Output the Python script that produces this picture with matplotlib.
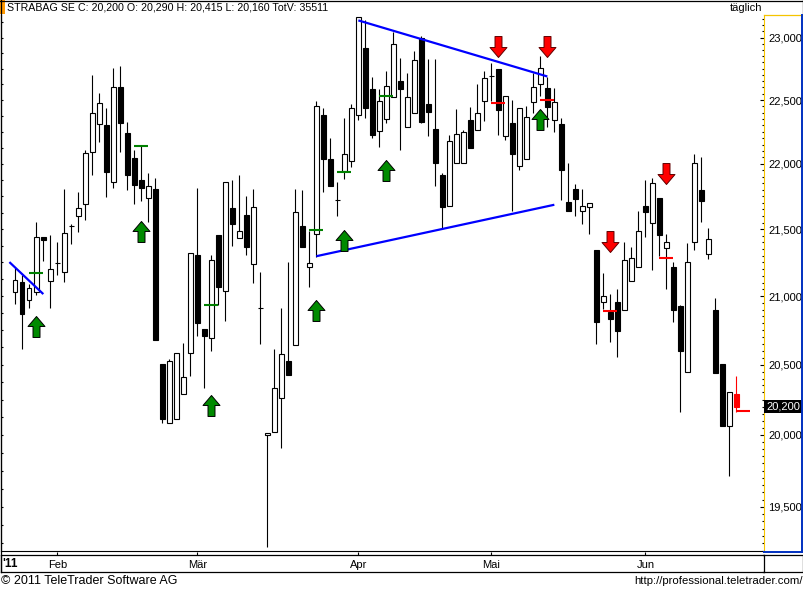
import numpy as np
import matplotlib
matplotlib.use('Agg')
import matplotlib.pyplot as plt
from matplotlib.patches import Rectangle
from matplotlib.lines import Line2D
from matplotlib.path import Path
from matplotlib.ticker import FixedLocator, FixedFormatter, NullFormatter
from matplotlib.transforms import blended_transform_factory

plt.rcParams['font.family'] = ['Liberation Sans', 'DejaVu Sans']

# daily candles (trading day index 0 = 24 Jan 2011), prices in EUR
opens = [21.027, 21.107, 20.974, 21.027, 21.444, 21.115, 21.245, 21.176, 21.523, 21.604,
         21.688, 22.093, 22.308, 22.302, 21.864, 22.607, 22.244, 22.046, 21.872, 21.735,
         21.804, 20.508, 20.080, 20.113, 20.286, 20.585, 21.304, 20.756, 20.694, 21.455,
         21.040, 21.661, 21.431, 21.607, 21.235, 20.916, 19.999, 20.017, 20.258, 20.526,
         20.642, 21.523, 21.219, 21.461, 22.381, 22.038, 21.721, 21.947, 22.024, 22.378,
         22.913, 22.585, 22.257, 22.350, 22.522, 22.647, 22.288, 22.401, 22.994, 22.471,
         22.269, 21.914, 21.680, 22.010, 22.010, 22.339, 22.260, 22.494, 22.693, 22.747,
         22.218, 22.322, 21.980, 22.035, 22.488, 22.624, 22.599, 22.344, 22.308, 21.708,
         21.804, 21.640, 21.667, 21.342, 20.955, 20.882, 20.953, 20.900, 21.115, 21.219,
         21.680, 21.545, 21.740, 21.358, 21.213, 20.924, 20.444, 21.401, 21.795, 21.310,
         20.895, 20.508, 20.062, 20.290]
highs = [21.208, 21.155, 21.088, 21.558, 21.444, 21.455, 21.407, 21.804, 21.536, 21.782,
         22.107, 22.698, 22.556, 22.437, 22.756, 22.770, 22.325, 22.107, 22.140, 21.927,
         21.894, 20.508, 20.544, 20.585, 20.655, 21.318, 21.812, 20.756, 21.304, 21.455,
         21.864, 21.878, 21.914, 21.754, 21.804, 21.181, 20.012, 20.616, 20.916, 21.256,
         21.804, 21.795, 21.490, 22.494, 22.437, 22.199, 21.858, 22.359, 22.466, 23.165,
         23.139, 22.684, 22.585, 22.727, 23.043, 22.833, 22.718, 22.890, 23.014, 22.827,
         22.827, 21.933, 22.224, 22.429, 22.260, 22.443, 22.627, 22.727, 22.798, 22.747,
         22.528, 22.500, 22.434, 22.449, 22.713, 22.850, 22.684, 22.599, 22.359, 22.004,
         21.845, 21.804, 21.699, 21.347, 21.173, 21.016, 21.054, 21.407, 21.363, 21.640,
         21.872, 21.894, 21.740, 21.463, 21.253, 20.937, 21.396, 22.073, 22.051, 21.509,
         20.987, 20.508, 20.306, 20.415]
lows = [20.942, 20.616, 20.916, 21.008, 21.261, 20.916, 21.155, 21.102, 21.388, 21.477,
        21.572, 21.914, 22.168, 21.743, 21.817, 22.093, 21.798, 21.694, 21.716, 21.553,
        20.681, 20.080, 20.080, 20.113, 20.286, 20.419, 20.707, 20.329, 20.598, 20.935,
        20.819, 21.374, 21.431, 21.307, 21.094, 20.650, 19.228, 20.017, 19.904, 20.424,
        20.642, 21.369, 21.067, 21.294, 21.784, 21.831, 21.599, 21.886, 21.974, 22.344,
        22.359, 22.204, 22.129, 22.316, 22.522, 22.107, 22.288, 22.401, 22.322, 22.218,
        21.831, 21.504, 21.680, 22.010, 22.010, 22.121, 22.260, 22.336, 22.491, 22.224,
        22.182, 21.640, 21.955, 22.035, 22.401, 22.528, 22.288, 22.252, 21.721, 21.640,
        21.599, 21.536, 21.461, 20.650, 20.903, 20.663, 20.552, 20.900, 21.115, 21.219,
        21.442, 21.195, 21.302, 21.054, 20.811, 20.164, 20.444, 21.342, 21.553, 21.275,
        20.442, 20.062, 19.712, 20.160]
closes = [21.123, 20.871, 21.062, 21.444, 21.415, 21.205, 21.245, 21.469, 21.523, 21.659,
          22.088, 22.395, 22.474, 21.941, 22.607, 22.322, 21.916, 21.839, 21.817, 21.828,
          20.681, 20.113, 20.529, 20.585, 20.414, 21.318, 20.806, 20.707, 21.272, 21.067,
          21.864, 21.539, 21.490, 21.363, 21.667, 20.916, 20.012, 20.329, 20.578, 20.424,
          21.634, 21.369, 21.248, 22.449, 22.038, 21.831, 21.721, 22.079, 22.434, 23.165,
          22.434, 22.224, 22.494, 22.613, 22.951, 22.585, 22.522, 22.819, 22.330, 22.406,
          22.010, 21.672, 22.174, 22.230, 22.246, 22.121, 22.401, 22.676, 22.693, 22.423,
          22.528, 22.079, 22.434, 22.364, 22.602, 22.756, 22.443, 22.485, 21.955, 21.640,
          21.727, 21.680, 21.699, 20.811, 21.003, 20.832, 20.743, 21.272, 21.283, 21.490,
          21.631, 21.850, 21.458, 21.407, 20.898, 20.598, 21.256, 22.010, 21.716, 21.423,
          20.442, 20.062, 20.306, 20.200]

# month starts (index of first trading day)
month_pos = [6, 26, 49, 68, 90]
month_labels = ['Feb', 'M\u00e4r', 'Apr', 'Mai', 'Jun']

# signals
buy_idx = [3, 18, 28, 43, 47, 53, 75]
buy_tip = [20.852, 21.564, 20.283, 20.969, 21.496, 22.032, 22.429]
buy_lvl_idx = [3, 18, 28, 43, 47, 53]
buy_lvl = [21.171, 22.135, 20.935, 21.496, 21.941, 22.528]
sell_idx = [69, 76, 85, 93]
sell_tip = [22.842, 22.842, 21.329, 21.845]
sell_lvl_idx = [69, 76, 85, 93, 104]
sell_lvl = [22.477, 22.500, 20.890, 21.280, 20.169]

# trend lines (index, price)
trend_lines = [([-0.85, 4.0], [21.253, 21.015]),
               ([49, 76], [23.139, 22.687]),
               ([43, 77], [21.297, 21.686])]

major_ticks = [19.5, 20.0, 20.5, 21.0, 21.5, 22.0, 22.5, 23.0]

W, H = 804, 590

def fx(x):
    return x / W

def fy(y):
    return (H - y) / H

fig = plt.figure(figsize=(W / 100, H / 100), dpi=100)
fig.patch.set_facecolor('white')

ax = fig.add_axes([fx(1), fy(551), 763 / W, 536 / H])
ax.set_yscale('log')

# candles
for i in range(len(opens)):
    o, h, l, c = opens[i], highs[i], lows[i], closes[i]
    last = i == len(opens) - 1
    col = 'red' if last else 'black'
    ax.vlines(i, l, h, color=col, lw=0.8, zorder=2)
    if last:
        face = 'red'
    elif c >= o:
        face = 'white'
    else:
        face = 'black'
    ax.add_patch(Rectangle((i - 0.31, min(o, c)), 0.62, abs(c - o),
                           facecolor=face, edgecolor=col, lw=0.8, zorder=3))

# trend lines
for xs, ys in trend_lines:
    ax.plot(xs, ys, color='#0000ff', lw=1.6, zorder=4, solid_capstyle='butt')

# signal levels
for i, v in zip(buy_lvl_idx, buy_lvl):
    ax.hlines(v, i - 1, i + 1, color='#008000', lw=1.5, zorder=4)
for i, v in zip(sell_lvl_idx, sell_lvl):
    ax.hlines(v, i - 1, i + 1, color='#ff0000', lw=1.5, zorder=4)

# arrow markers, tip at origin
up_verts = [(0, 0), (8.5, -10), (3.5, -10), (3.5, -21), (-3.5, -21), (-3.5, -10), (-8.5, -10), (0, 0)]
codes = [Path.MOVETO] + [Path.LINETO] * 6 + [Path.CLOSEPOLY]
up_arrow = Path(up_verts, codes)
down_arrow = Path([(x, -y) for x, y in up_verts], codes)
ax.plot(buy_idx, buy_tip, ls='none', marker=up_arrow, ms=30.2,
        mfc='#008a00', mec='black', mew=0.7, zorder=5)
ax.plot(sell_idx, sell_tip, ls='none', marker=down_arrow, ms=30.2,
        mfc='#ff0000', mec='#600000', mew=0.7, zorder=5)

ax.set_xlim(-2.047, 106.95)
ax.set_ylim(19.199, 23.183)

# price axis on the right
ax.yaxis.tick_right()
ax.yaxis.set_major_locator(FixedLocator(major_ticks))
ax.yaxis.set_major_formatter(FixedFormatter([f'{v:.3f}'.replace('.', ',') for v in major_ticks]))
ax.yaxis.set_minor_locator(FixedLocator(np.arange(19.2, 23.2, 0.05)))
ax.yaxis.set_minor_formatter(NullFormatter())
ax.tick_params(axis='y', which='major', direction='in', length=3, width=0.8, pad=3, labelsize=8)
ax.tick_params(axis='y', which='minor', direction='in', length=1.6, width=0.8)
ax.set_xticks([])
ax.spines['top'].set_visible(False)
ax.spines['right'].set_color('#f5c400')
ax.spines['left'].set_color('black')
ax.spines['bottom'].set_color('black')

# small ticks on the left edge
trans = blended_transform_factory(ax.transAxes, ax.transData)
ax.hlines(np.arange(19.25, 23.2, 0.125), 0, 2.5 / 763, color='black', lw=0.8,
          transform=trans, clip_on=False)

# last price box
ax.text(1 + 2 / 763, 20.2, '20,200', transform=trans, ha='left', va='center',
        color='white', fontsize=8, zorder=6,
        bbox=dict(facecolor='black', edgecolor='none', pad=1.2))

# date axis
dax = fig.add_axes([fx(1), fy(572), 763 / W, 17 / H])
dax.set_xlim(ax.get_xlim())
dax.set_ylim(0, 1)
dax.set_yticks([])
dax.set_xticks(month_pos)
dax.tick_params(axis='x', top=True, bottom=False, labeltop=False, labelbottom=False,
                direction='out', length=2.2, width=0.8)
for s in dax.spines.values():
    s.set_color('black')
    s.set_linewidth(0.9)
dtrans = blended_transform_factory(dax.transData, dax.transAxes)
for p, lab in zip(month_pos, month_labels):
    dax.text(p, 0.42, lab, transform=dtrans, ha='center', va='center', fontsize=8)
fig.text(fx(2), fy(564), "'11", fontsize=8.5, fontweight='bold', ha='left', va='center')

# frame and price panel borders
def line(x0, y0, x1, y1, color='black', lw=0.9):
    fig.add_artist(Line2D([fx(x0), fx(x1)], [fy(y0), fy(y1)], color=color, lw=lw))

line(0, 0.5, 804, 0.5)
line(0.5, 0, 0.5, 572)
line(803.5, 0, 803.5, 15)
line(764, 15, 802, 15, color='#f5c400')
line(802.5, 15, 802.5, 551.5, color='#0030c0', lw=1.4)
line(764, 551.5, 803, 551.5, color='#0030c0', lw=1.4)
line(763, 555, 803.5, 555)
line(803.5, 555, 803.5, 572)
line(763, 572, 804, 572)

# header
fig.add_artist(Rectangle((0, fy(14)), fx(5), 14 / H, transform=fig.transFigure,
                         facecolor='#ff9900', edgecolor='none'))
fig.text(fx(7), fy(8), 'STRABAG SE C: 20,200 O: 20,290 H: 20,415 L: 20,160 TotV: 35511',
         fontsize=7.7, ha='left', va='center')
fig.text(fx(762), fy(8), 't\u00e4glich', fontsize=8, ha='right', va='center')

# footer
fig.text(fx(1), fy(581), '\u00a9 2011 TeleTrader Software AG', fontsize=9, ha='left', va='center')
fig.text(fx(803), fy(581), 'http://professional.teletrader.com/', fontsize=8.2, ha='right', va='center')

fig.savefig('out.png', dpi=100)
